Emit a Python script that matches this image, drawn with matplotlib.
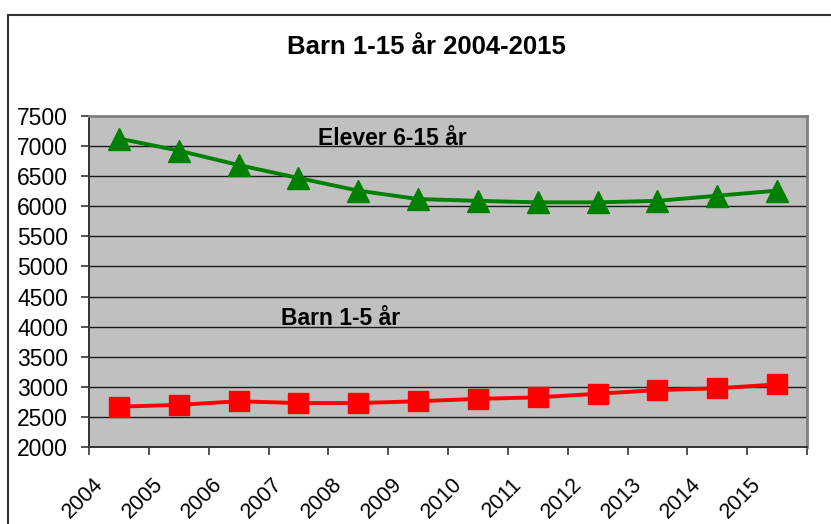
import matplotlib
matplotlib.use("Agg")
import matplotlib.pyplot as plt
from matplotlib.lines import Line2D
from matplotlib.transforms import ScaledTranslation

# -----------------------
# Data
# -----------------------
years = ["2004", "2005", "2006", "2007", "2008", "2009",
         "2010", "2011", "2012", "2013", "2014", "2015"]
elever_6_15 = [7125, 6925, 6685, 6470, 6260, 6120, 6090, 6065, 6065, 6090, 6175, 6260]
barn_1_5 = [2670, 2700, 2760, 2730, 2730, 2760, 2800, 2825, 2885, 2945, 2975, 3040]
y_ticks = list(range(2000, 7501, 500))

title = "Barn 1-15 år 2004-2015"
label_elever = "Elever 6-15 år"
label_barn = "Barn 1-5 år"

# -----------------------
# Style
# -----------------------
plt.rcParams["font.family"] = ["Liberation Sans", "DejaVu Sans"]
GREEN = "#008000"
RED = "#FF0000"
PLOT_BG = "#C0C0C0"

fig = plt.figure(figsize=(8.31, 5.24), dpi=100)
ax = fig.add_axes([89 / 831, 1 - 447 / 524, (807 - 89) / 831, (447 - 116) / 524])
ax.set_facecolor(PLOT_BG)

x = list(range(len(years)))
ax.plot(x, elever_6_15, color=GREEN, lw=2.8, marker="^", ms=16.5,
        mec=GREEN, mfc=GREEN, zorder=3)
ax.plot(x, barn_1_5, color=RED, lw=2.8, marker="s", ms=14.5,
        mec=RED, mfc=RED, zorder=3)

# Axes ranges and grid
ax.set_xlim(-0.5, len(years) - 0.5)
ax.set_ylim(2000, 7500)
ax.set_yticks(y_ticks)
ax.set_yticklabels([str(v) for v in y_ticks], fontsize=16.5)
ax.yaxis.grid(True, color="#1a1a1a", lw=1.0)
ax.set_axisbelow(True)
ax.tick_params(axis="y", direction="out", length=6, width=1.2, color="#333333", pad=9)

# Category boundaries as major ticks, labels on minor ticks at the centres
ax.set_xticks([i - 0.5 for i in range(len(years) + 1)])
ax.set_xticklabels([])
ax.tick_params(axis="x", which="major", direction="out", length=5.5, width=1.2, color="#333333")
ax.set_xticks(x, minor=True)
ax.set_xticklabels(years, minor=True, fontsize=15.5, rotation=45,
                   ha="right", va="center", rotation_mode="anchor")
ax.tick_params(axis="x", which="minor", length=0, pad=24.5)
shift = ScaledTranslation(-19 / 100, 0, fig.dpi_scale_trans)
for lab in ax.get_xticklabels(minor=True):
    lab.set_transform(lab.get_transform() + shift)

for side in ("left", "bottom"):
    ax.spines[side].set_color("#333333")
    ax.spines[side].set_linewidth(1.4)
for side in ("top", "right"):
    ax.spines[side].set_color("#808080")
    ax.spines[side].set_linewidth(2.0)

# Series labels inside the plot
ax.text(3.33, 7018, label_elever, fontsize=16.5, fontweight="bold",
        ha="left", va="baseline")
ax.text(2.71, 4030, label_barn, fontsize=16.5, fontweight="bold",
        ha="left", va="baseline")

# Title
fig.text(426.5 / 831, 1 - 47 / 524, title, fontsize=18.5, fontweight="bold",
         ha="center", va="center")

# Chart border (only top and left visible in the crop)
fig.add_artist(Line2D([8 / 831, 1.0], [1 - 14.7 / 524] * 2, color="#333333", lw=1.5))
fig.add_artist(Line2D([8 / 831] * 2, [0.0, 1 - 14.7 / 524], color="#333333", lw=1.5))

fig.savefig("out.png", dpi=100)
plt.close(fig)
